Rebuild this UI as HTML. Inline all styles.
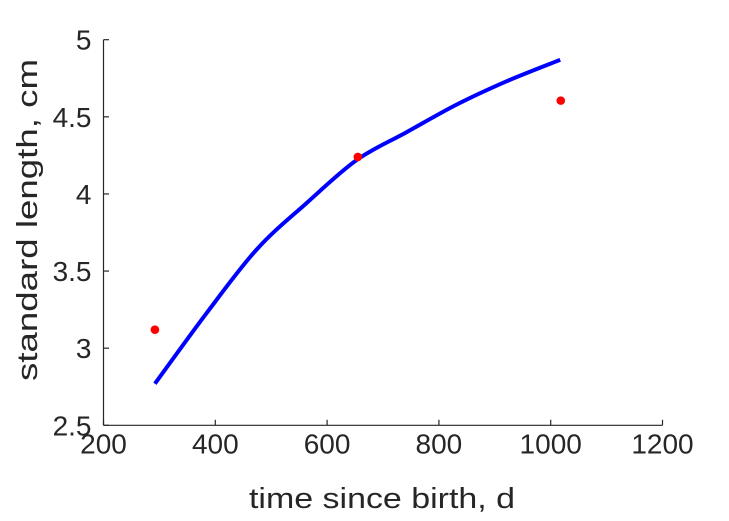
<!DOCTYPE html>
<html><head><meta charset="utf-8"><style>
html,body{margin:0;padding:0;background:#fff;}
svg{display:block;font-family:"Liberation Sans",Arial,sans-serif;}
</style></head><body>
<svg id="chart" width="729" height="521" viewBox="0 0 729 521">
<g id="axes"></g>
<g id="marks"></g>
<text x="382" y="508" text-anchor="middle" font-size="29" textLength="266" lengthAdjust="spacingAndGlyphs" fill="#262626">time since birth, d</text>
<text transform="translate(37,220) rotate(-90)" text-anchor="middle" font-size="29" textLength="322" lengthAdjust="spacingAndGlyphs" fill="#262626">standard length, cm</text>
</svg>
<script>
const xTicks=[200,400,600,800,1000,1200];
const yTicks=[2.5,3,3.5,4,4.5,5];
const yTickLabels=["2.5","3","3.5","4","4.5","5"];
const curveT=[292,385,474,563,653,742,832,921,1017];
const curveL=[2.77,3.23,3.64,3.94,4.22,4.40,4.58,4.73,4.87];
const obsT=[292,655,1018];
const obsL=[3.12,4.24,4.605];

const X0=103.5,X1=662.5,Y0=425.3,Y1=39.7;
function xs(v){return X0+(v-200)/1000*(X1-X0);}
function ys(v){return Y0-(v-2.5)/2.5*(Y0-Y1);}
const NS="http://www.w3.org/2000/svg";
const axes=document.getElementById('axes'),marks=document.getElementById('marks');
function mk(tag,attrs,parent){const e=document.createElementNS(NS,tag);for(const k in attrs)e.setAttribute(k,attrs[k]);parent.appendChild(e);return e;}

let l=mk('line',{x1:X0,y1:Y0,x2:X1,y2:Y0,stroke:'#262626','stroke-width':1.2},axes);


l=mk('line',{x1:X0,y1:Y0,x2:X0,y2:Y1,stroke:'#262626','stroke-width':1.2},axes);



xTicks.forEach(v=>{
  const t=mk('line',{x1:xs(v),y1:Y0,x2:xs(v),y2:Y0-5.5,stroke:'#262626','stroke-width':1.2},axes);
  
  
  const tx=mk('text',{x:xs(v),y:Y0+28,'text-anchor':'middle','font-size':28,fill:'#262626'},axes);
  tx.textContent=String(v);
  
  
});
yTicks.forEach((v,i)=>{
  const t=mk('line',{x1:X0,y1:ys(v),x2:X0+5.5,y2:ys(v),stroke:'#262626','stroke-width':1.2},axes);
  
  
  const tx=mk('text',{x:X0-12,y:ys(v)+10,'text-anchor':'end','font-size':28,fill:'#262626'},axes);
  tx.textContent=yTickLabels[i];
  
  
});

// smooth Catmull-Rom path through curve samples
const P=curveT.map((t,i)=>[xs(t),ys(curveL[i])]);
let d='M'+P[0][0].toFixed(1)+','+P[0][1].toFixed(1);
for(let i=0;i<P.length-1;i++){
  const p0=P[Math.max(i-1,0)],p1=P[i],p2=P[i+1],p3=P[Math.min(i+2,P.length-1)];
  const c1=[p1[0]+(p2[0]-p0[0])/6,p1[1]+(p2[1]-p0[1])/6];
  const c2=[p2[0]-(p3[0]-p1[0])/6,p2[1]-(p3[1]-p1[1])/6];
  d+='C'+c1[0].toFixed(1)+','+c1[1].toFixed(1)+' '+c2[0].toFixed(1)+','+c2[1].toFixed(1)+' '+p2[0].toFixed(1)+','+p2[1].toFixed(1);
}
const p=mk('path',{d:d,fill:'none',stroke:'#0000ff','stroke-width':4,'stroke-linejoin':'round'},marks);



obsT.forEach((t,i)=>{
  const c=mk('circle',{cx:xs(t),cy:ys(obsL[i]),r:4.3,fill:'#ff0000'},marks);
  
  
});
</script>
</body></html>
